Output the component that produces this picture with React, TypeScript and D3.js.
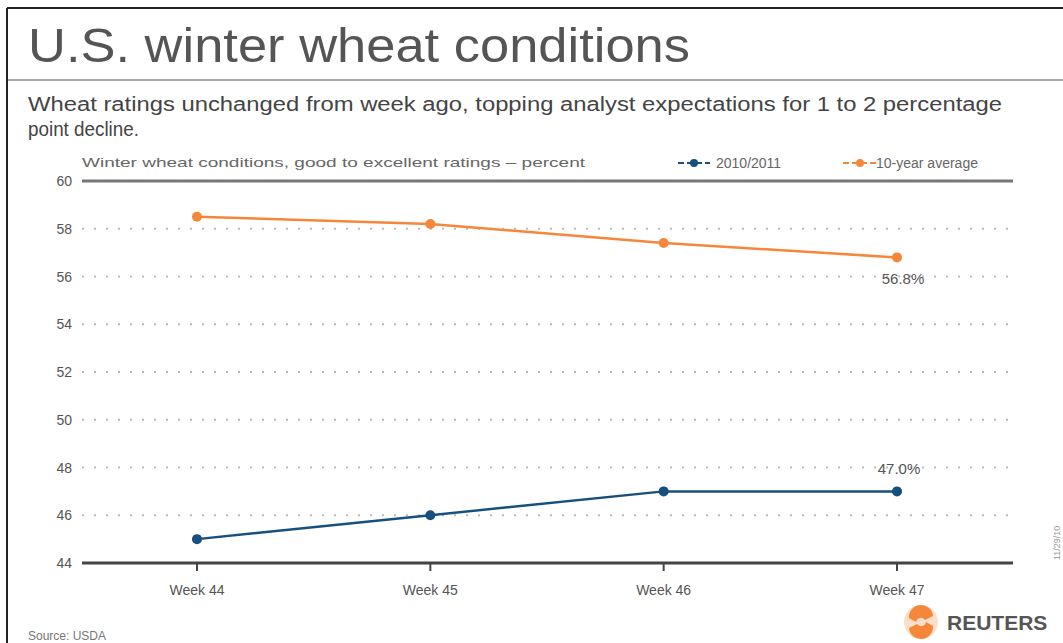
import * as d3 from "d3";

const W = 1063;
const H = 643;

const weeks = ["Week 44", "Week 45", "Week 46", "Week 47"];
const season = [45, 46, 47, 47];
const avg10 = [58.5, 58.2, 57.4, 56.8];
const yTicks = [44, 46, 48, 50, 52, 54, 56, 58, 60];

const ORANGE = "#f5873a";
const BLUE = "#174f7f";
const INK = "#555";

const X0 = 82;
const X1 = 1013;
const Y_TOP = 181;
const Y_BOT = 563;

export default function App() {
  const x = d3.scalePoint<string>().domain(weeks).range([197, 897]);
  const y = d3.scaleLinear().domain([44, 60]).range([Y_BOT, Y_TOP]);
  const line = d3
    .line<number>()
    .x((_, i) => x(weeks[i]) as number)
    .y((d) => y(d));

  const sans = "'Liberation Sans', Arial, sans-serif";

  return (
    <svg width={W} height={H} style={{ position: "absolute", left: 0, top: 0, background: "#fff" }}>
      {/* frame */}
      <line x1={7} x2={7} y1={8} y2={H} stroke="#222" strokeWidth={2} />
      <line x1={7} x2={W} y1={8} y2={8} stroke="#222" strokeWidth={2} />

      <text x={28} y={62} fontFamily={sans} fontSize={48} fill={INK} textLength={662} lengthAdjust="spacingAndGlyphs">
        U.S. winter wheat conditions
      </text>
      <line x1={8} x2={W} y1={80} y2={80} stroke="#aaa" strokeWidth={2} />

      <text x={28} y={111} fontFamily={sans} fontSize={20} fill="#444" textLength={974} lengthAdjust="spacingAndGlyphs">
        Wheat ratings unchanged from week ago, topping analyst expectations for 1 to 2 percentage
      </text>
      <text x={28} y={136} fontFamily={sans} fontSize={20} fill="#444" textLength={111} lengthAdjust="spacingAndGlyphs">
        point decline.
      </text>

      <text x={82} y={167} fontFamily={sans} fontSize={13} fill="#666" textLength={503} lengthAdjust="spacingAndGlyphs">
        Winter wheat conditions, good to excellent ratings – percent
      </text>

      {/* legend */}
      <g>
        <line x1={678} x2={710} y1={163} y2={163} stroke={BLUE} strokeWidth={2} strokeDasharray="6 3" />
        <circle cx={694} cy={163} r={4} fill={BLUE} />
        <text x={716} y={168} fontFamily={sans} fontSize={14} fill="#666">2010/2011</text>
        <line x1={843} x2={876} y1={163} y2={163} stroke={ORANGE} strokeWidth={2} strokeDasharray="6 3" />
        <circle cx={860} cy={163} r={4} fill={ORANGE} />
        <text x={876} y={168} fontFamily={sans} fontSize={14} fill="#666">10-year average</text>
      </g>

      {/* grid */}
      {yTicks.map((t) => (
        <g key={t}>
          {t !== 60 && t !== 44 && (
            <line x1={X0} x2={X1} y1={y(t)} y2={y(t)} stroke="#bbb" strokeWidth={2} strokeDasharray="2 10" />
          )}
          <text x={72} y={y(t) + 5} textAnchor="end" fontFamily={sans} fontSize={14} fill="#555">
            {t}
          </text>
        </g>
      ))}
      <line x1={X0} x2={X1} y1={y(60)} y2={y(60)} stroke="#777" strokeWidth={3} />
      <line x1={X0} x2={X1} y1={y(44)} y2={y(44)} stroke="#444" strokeWidth={3} />

      {weeks.map((w) => (
        <g key={w}>
          <line x1={x(w)} x2={x(w)} y1={Y_BOT} y2={Y_BOT + 8} stroke="#444" strokeWidth={2} />
          <text x={x(w)} y={595} textAnchor="middle" fontFamily={sans} fontSize={14} fill="#555">
            {w}
          </text>
        </g>
      ))}

      {/* series */}
      <path d={line(avg10) ?? ""} fill="none" stroke={ORANGE} strokeWidth={2.5} />
      {avg10.map((v, i) => (
        <circle key={i} cx={x(weeks[i])} cy={y(v)} r={5} fill={ORANGE} />
      ))}
      <path d={line(season) ?? ""} fill="none" stroke={BLUE} strokeWidth={2.5} />
      {season.map((v, i) => (
        <circle key={i} cx={x(weeks[i])} cy={y(v)} r={5} fill={BLUE} />
      ))}

      <text x={(x("Week 47") as number) + 6} y={y(avg10[3]) + 27} textAnchor="middle" fontFamily={sans} fontSize={15} fill="#555">
        {avg10[3].toFixed(1)}%
      </text>
      <text x={(x("Week 47") as number) + 2} y={y(season[3]) - 17} textAnchor="middle" fontFamily={sans} fontSize={15} fill="#555">
        {season[3].toFixed(1)}%
      </text>

      <text x={28} y={640} fontFamily={sans} fontSize={12} fill="#777">Source: USDA</text>

      {/* Reuters mark */}
      <g transform="translate(921,622)">
        <circle r={17} fill="#f7a35c" opacity={0.35} />
        <path d="M-12,-4 A12,12 0 0 1 12,-6 L4,-2 A5,5 0 0 0 -5,0 Z" fill={ORANGE} />
        <path d="M12,4 A12,12 0 0 1 -12,6 L-4,2 A5,5 0 0 0 5,0 Z" fill={ORANGE} />
      </g>
      <text x={947} y={630} fontFamily={sans} fontWeight={700} fontSize={21} fill="#555">REUTERS</text>

      <text transform="translate(1060,560) rotate(-90)" fontFamily={sans} fontSize={9} fill="#999">
        11/29/10
      </text>
    </svg>
  );
}
